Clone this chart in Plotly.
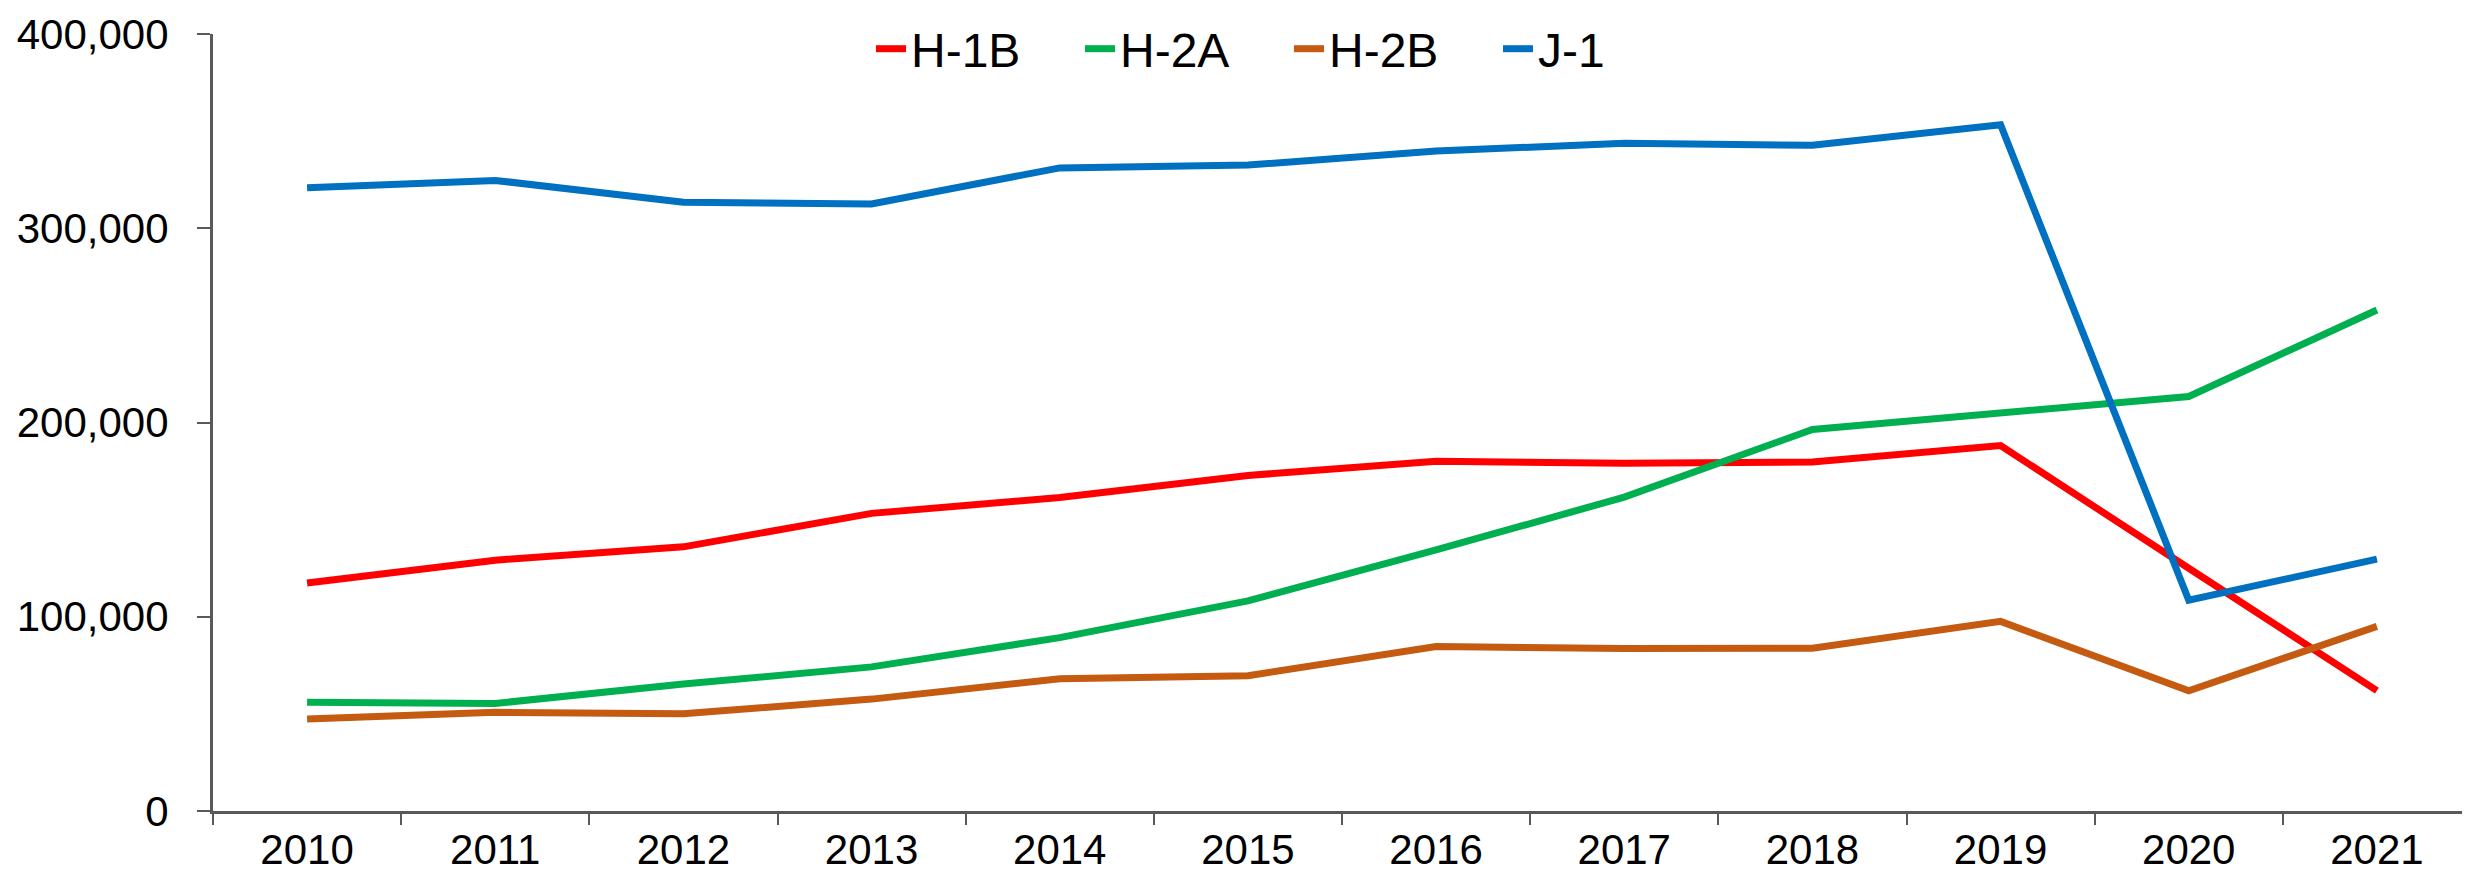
import plotly.graph_objects as go

years = ["2010", "2011", "2012", "2013", "2014", "2015", "2016", "2017", "2018", "2019", "2020", "2021"]
h1b = [117409, 129134, 135991, 153223, 161369, 172748, 180057, 179049, 179660, 188123, 124983, 62000]
h2a = [55921, 55384, 65345, 74192, 89274, 108144, 134368, 161583, 196409, 204801, 213394, 257898]
h2b = [47403, 50826, 50009, 57600, 68102, 69684, 84627, 83600, 83774, 97623, 61865, 95057]
j1 = [320805, 324624, 313431, 312522, 331068, 332540, 339712, 343811, 342688, 353279, 108510, 129671]
series_names = ["H-1B", "H-2A", "H-2B", "J-1"]
series_colors = ["#FF0000", "#00B050", "#C55A11", "#0070C0"]
y_ticks = [0, 100000, 200000, 300000, 400000]

fig = go.Figure()
for name, vals, col in zip(series_names, [h1b, h2a, h2b, j1], series_colors):
    fig.add_trace(go.Scatter(x=years, y=vals, mode="lines", name=name,
                             line=dict(color=col, width=7, shape="linear")))

axis_col = "#595959"
fig.update_layout(
    width=2470, height=872,
    margin=dict(l=205, r=7, t=26, b=69, autoexpand=False),
    paper_bgcolor="white", plot_bgcolor="white",
    font=dict(family="Liberation Sans, Arial, sans-serif", color="black", size=42),
    showlegend=True,
    legend=dict(orientation="h", xref="container", x=863 / 2470, xanchor="left",
                yref="container", y=1 - 41 / 872, yanchor="middle",
                font=dict(size=48), bgcolor="rgba(0,0,0,0)", itemwidth=30,
                entrywidth=164, entrywidthmode="pixels",
                traceorder="normal"),
    xaxis=dict(type="category", range=[-0.5, len(years) - 0.5], tickson="boundaries",
               ticks="outside", ticklen=11,
               tickwidth=2, tickcolor=axis_col, showline=True, linecolor=axis_col,
               linewidth=3, showgrid=False, zeroline=False,
               tickfont=dict(size=42)),
    yaxis=dict(range=[0, 400000], tickvals=y_ticks, tickformat=",", ticks="outside",
               ticklen=13, tickwidth=2, tickcolor=axis_col, showline=True,
               linecolor=axis_col, linewidth=3, showgrid=False, zeroline=False,
               ticklabelstandoff=20, tickfont=dict(size=42)),
)
fig.write_html("out.html")
